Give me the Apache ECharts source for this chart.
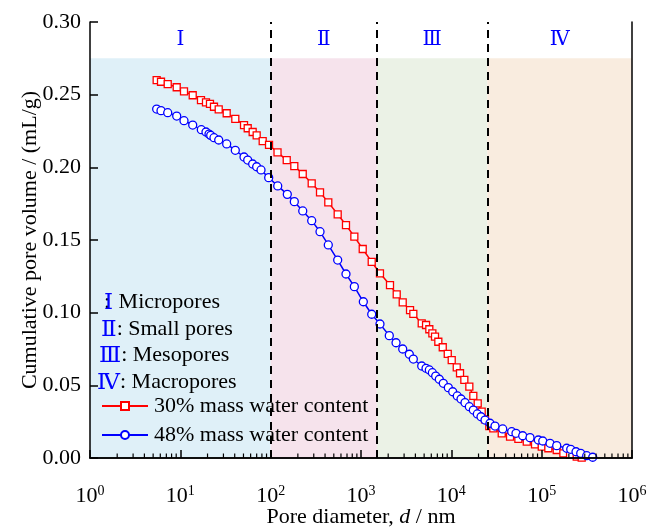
<!DOCTYPE html>
<html>
<head>
<meta charset="utf-8">
<script src="https://cdn.jsdelivr.net/npm/echarts@6/dist/echarts.min.js"></script>
<style>
  html, body { margin: 0; padding: 0; background: #fff; }
  #chart { width: 649px; height: 528px; }
</style>
</head>
<body>
<div id="chart"></div>
<script>
// Cumulative pore volume vs. pore diameter (log scale), two water contents
const FONT = '"Liberation Serif", "DejaVu Serif", serif';

const seriesNames = ['30% mass water content', '48% mass water content'];

const redDiameter = [5.47, 6.11, 7.25, 9.12, 10.98, 13.71, 16.93, 19.23, 21.29, 23.58,
  26.6, 32.6, 40.6, 50.7, 55.7, 63.2, 70.0, 81.6, 95.9,
  119.1, 150.6, 182.7, 226.5, 284.6, 351.8, 434.5, 552, 682, 844,
  1045, 1314, 1622, 2094, 2485, 2896, 3490, 3796, 4700, 5248,
  5706, 6166, 6596, 7178, 8035, 9128, 10100, 11480, 12480, 13930,
  15820, 17510, 19590, 21680, 23600, 26320,
  29150, 36130, 44650, 55200, 68390, 84400, 100200, 118500, 146800, 173900, 206200, 244400, 277400];
const redVolume = [0.260, 0.2589, 0.2573, 0.2551, 0.2523, 0.2496, 0.2463, 0.2447, 0.2436, 0.2417,
  0.2399, 0.2372, 0.2333, 0.2291, 0.2269, 0.2243, 0.2220, 0.2181, 0.2154,
  0.2103, 0.2050, 0.2009, 0.1954, 0.1890, 0.1828, 0.1759, 0.1677, 0.1603, 0.1523,
  0.1438, 0.1349, 0.1271, 0.1190, 0.1126, 0.1071, 0.1018, 0.0991, 0.0927, 0.0915,
  0.0886, 0.0858, 0.0835, 0.0800, 0.0762, 0.0716, 0.0674, 0.0624, 0.0583, 0.0537,
  0.0491, 0.0427, 0.0376, 0.0319, 0.0266, 0.0220,
  0.0204, 0.0170, 0.0147, 0.0131, 0.0112, 0.0094, 0.0078, 0.0067, 0.0055, 0.0032, 0.0021, 0.0009, 0.0002];

const blueDiameter = [5.47, 6.11, 7.25, 9.12, 10.98, 13.71, 17.07, 19.23, 20.77, 21.69,
  23.58, 26.6, 32.6, 40.6, 50.7, 55.7, 63.2, 70.0,
  78.2, 95.1, 119.7, 152.8, 182.7, 226.5, 284.6, 351.8, 434.5, 552,
  682, 844, 1061, 1314, 1622, 2057, 2443, 2896, 3428, 3796,
  4700, 5248, 5706, 6166, 6714, 7359, 8150, 9265, 10360, 11640,
  12800, 14170, 15820, 17510, 19400, 21310, 23600, 26790, 30440, 37060,
  46580, 51960, 61660, 74300, 91900, 102800, 123700, 146800, 189300, 209700,
  240100, 270500, 315300, 367300];
const blueVolume = [0.2401, 0.2390, 0.2376, 0.2353, 0.2321, 0.2291, 0.2259, 0.2243, 0.2229, 0.2220,
  0.2204, 0.2188, 0.2161, 0.2117, 0.2071, 0.2050, 0.2023, 0.2004,
  0.1982, 0.1929, 0.1872, 0.1814, 0.1764, 0.1700, 0.1633, 0.1557, 0.1466, 0.1362,
  0.1266, 0.1179, 0.1075, 0.0989, 0.0922, 0.0842, 0.0793, 0.0750, 0.0714, 0.0681,
  0.0633, 0.0617, 0.0606, 0.0587, 0.0564, 0.0542, 0.0514, 0.0484, 0.0456, 0.0427,
  0.0406, 0.0381, 0.0353, 0.0330, 0.0303, 0.0284, 0.0261, 0.0239, 0.0220, 0.0200,
  0.0181, 0.0170, 0.0153, 0.0140, 0.0124, 0.0117, 0.0101, 0.0085, 0.0067, 0.0060,
  0.0043, 0.0032, 0.0016, 0.0005];

// Pore-size classes: boundaries (nm), band colours and labels
const bandEdges = [1, 100, 1500, 25000, 1000000];
const bandColors = ['#dff0f8', '#f6e3ec', '#ebf2e6', '#f9ecdf'];
const bandLabels = ['Ⅰ', 'Ⅱ', 'Ⅲ', 'Ⅳ'];
const bandTop = 0.275;
const classNames = ['Micropores', 'Small pores', 'Mesopores', 'Macropores'];

const yTicks = { min: 0, max: 0.30, interval: 0.05 };

// minor tick positions on the log axis: 2..9 × 10^n
const minorTicks = [];
for (let e = 0; e < 6; e++) {
  for (let m = 2; m <= 9; m++) minorTicks.push([m * Math.pow(10, e), 0]);
}

const pair = (xs, ys) => xs.map((x, i) => [x, ys[i]]);

const chart = echarts.init(document.getElementById('chart'), null, { renderer: 'canvas' });

const bandAreas = bandColors.map((c, i) => [
  { xAxis: bandEdges[i], yAxis: 0, itemStyle: { color: c } },
  { xAxis: bandEdges[i + 1], yAxis: bandTop }
]);
const bandTitleAreas = bandLabels.map((t, i) => [
  { xAxis: bandEdges[i], yAxis: bandTop, name: t, itemStyle: { color: 'rgba(0,0,0,0)' } },
  { xAxis: bandEdges[i + 1], yAxis: yTicks.max }
]);

const option = {
  animation: false,
  backgroundColor: '#fff',
  textStyle: { fontFamily: FONT },
  grid: { left: 90, right: 17, top: 22, bottom: 70, outerBoundsMode: 'none', containLabel: false },
  legend: {
    data: seriesNames,
    orient: 'vertical',
    left: 96,
    top: 390,
    itemWidth: 46,
    itemHeight: 10,
    itemGap: 7,
    z: 2,
    textStyle: { fontFamily: FONT, fontSize: 22, color: '#000', lineHeight: 22, padding: [0, 0, 0, 1] }
  },
  xAxis: [{
    type: 'log',
    logBase: 10,
    min: 1,
    max: 1000000,
    z: 10,
    name: 'Pore diameter, {i|d} / nm',
    nameLocation: 'middle',
    nameGap: 48,
    nameMoveOverlap: false,
    nameTextStyle: {
      fontFamily: FONT, fontSize: 22, color: '#000',
      rich: { i: { fontFamily: FONT, fontSize: 22, fontStyle: 'italic', color: '#000' } }
    },
    axisLine: { lineStyle: { color: '#000', width: 1.5 } },
    axisTick: { inside: true, length: 8, lineStyle: { color: '#000', width: 1.5 } },
    splitLine: { show: false },
    axisLabel: {
      margin: 26,
      color: '#000',
      fontFamily: FONT,
      formatter: v => '10{s|' + Math.round(Math.log10(v)) + '}',
      fontSize: 22,
      rich: { s: { fontFamily: FONT, fontSize: 14, color: '#000', verticalAlign: 'top', padding: [0, 0, 10, 0] } }
    }
  }, {
    type: 'log', position: 'top', min: 1, max: 1000000, z: 10,
    axisLine: { lineStyle: { color: '#000', width: 1.5 } },
    axisTick: { show: false }, axisLabel: { show: false }, splitLine: { show: false }
  }],
  yAxis: [{
    type: 'value',
    min: yTicks.min,
    max: yTicks.max,
    interval: yTicks.interval,
    z: 10,
    name: 'Cumulative pore volume / (mL/g)',
    nameLocation: 'middle',
    nameGap: 49,
    nameMoveOverlap: false,
    nameTextStyle: { fontFamily: FONT, fontSize: 22, color: '#000' },
    axisLine: { show: true, lineStyle: { color: '#000', width: 1.5 } },
    axisTick: { show: true, inside: true, length: 8, lineStyle: { color: '#000', width: 1.5 } },
    splitLine: { show: false },
    axisLabel: { margin: 9, color: '#000', fontFamily: FONT, fontSize: 22, formatter: v => v.toFixed(2) }
  }, {
    type: 'value', position: 'right', min: yTicks.min, max: yTicks.max, interval: yTicks.interval, z: 10,
    axisLine: { show: true, lineStyle: { color: '#000', width: 1.5 } },
    axisTick: { show: false }, axisLabel: { show: false }, splitLine: { show: false }
  }],
  graphic: {
    elements: classNames.map((name, i) => ({
      type: 'text',
      left: [104, 101, 99, 97][i],
      top: [291, 318, 344, 371][i],
      z: 3,
      style: {
        text: '{r|' + bandLabels[i] + '}' + (i === 0 ? ' ' : ': ') + name,
        font: '22px ' + FONT,
        fill: '#000',
        rich: { r: { fontFamily: FONT, fontSize: 23, fill: '#0000ff', color: '#0000ff' } }
      }
    })).concat([{
      type: 'text', left: 104, top: 291, z: 2,
      style: { text: ':', font: '22px ' + FONT, fill: '#000' }
    }])
  },
  series: [
    {
      // pore-class bands and their titles
      type: 'line',
      data: [],
      z: 0,
      silent: true,
      markArea: {
        silent: true,
        label: { show: false },
        data: bandAreas
      }
    },
    {
      type: 'line',
      data: [],
      z: 1,
      silent: true,
      markArea: {
        silent: true,
        label: {
          show: true, position: 'inside', color: '#0000ff',
          fontFamily: FONT, fontSize: 20
        },
        data: bandTitleAreas
      }
    },
    {
      // minor ticks on the bottom log axis
      type: 'custom',
      z: 4,
      silent: true,
      data: minorTicks,
      renderItem: (params, api) => {
        const p = api.coord([api.value(0), 0]);
        return {
          type: 'line',
          shape: { x1: p[0], y1: p[1], x2: p[0], y2: p[1] - 4.5 },
          style: { stroke: '#000', lineWidth: 1.2 }
        };
      }
    },
    {
      name: seriesNames[0],
      type: 'line',
      z: 3,
      data: pair(redDiameter, redVolume),
      symbol: 'rect',
      symbolSize: 7,
      color: '#ff0000',
      lineStyle: { color: '#ff0000', width: 1.5 },
      itemStyle: { color: '#ffffff', borderColor: '#ff0000', borderWidth: 1.3 }
    },
    {
      name: seriesNames[1],
      type: 'line',
      z: 3,
      data: pair(blueDiameter, blueVolume),
      symbol: 'circle',
      symbolSize: 8,
      color: '#0000ff',
      lineStyle: { color: '#0000ff', width: 1.5 },
      itemStyle: { color: '#ffffff', borderColor: '#0000ff', borderWidth: 1.3 }
    },
    {
      // class boundaries
      type: 'line',
      data: [],
      z: 5,
      silent: true,
      markLine: {
        silent: true,
        symbol: ['none', 'none'],
        label: { show: false },
        lineStyle: { color: '#000', type: [8, 6], width: 2 },
        data: bandEdges.slice(1, 4).map(v => ({ xAxis: v }))
      }
    }
  ]
};

chart.setOption(option);
</script>
</body>
</html>
